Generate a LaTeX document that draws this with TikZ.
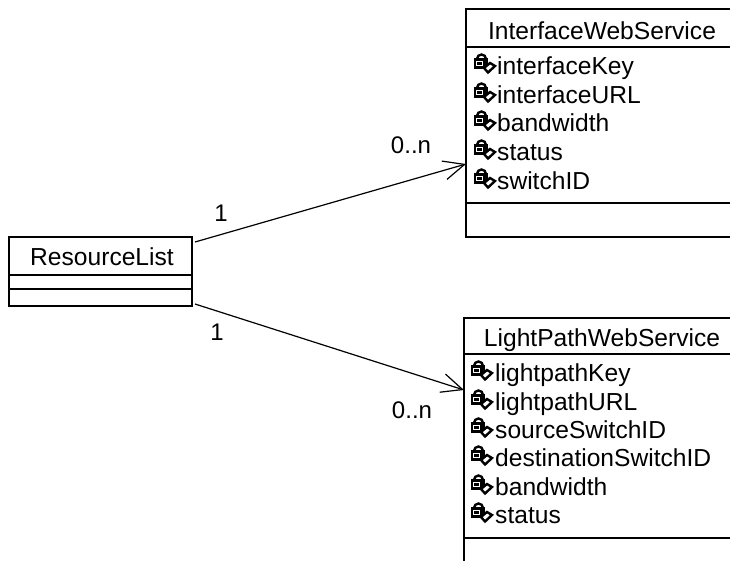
\documentclass[tikz,border=0pt]{standalone}
\usepackage{fontspec}
\setmainfont{Liberation Sans}
\usetikzlibrary{arrows.meta}
\tikzset{
  umlbox/.style={draw=black,line width=1.5pt,fill=white,inner sep=0pt,outer sep=0pt,minimum height=0pt},
  divider/.style={draw=black,line width=1.5pt},
  titletext/.style={font=\fontsize{24.6}{28}\selectfont,inner sep=0pt,anchor=base},
  attrtext/.style={font=\fontsize{24.6}{28}\selectfont,inner sep=0pt,anchor=base west},
  multtext/.style={font=\fontsize{24}{28}\selectfont,inner sep=0pt},
  assoc/.style={draw=black,line width=1.2pt,-{Straight Barb[length=21pt,width=19pt,line width=1.2pt]}},
  attricon/.pic={
    \draw[black,line width=2.4pt] (-4,-1) arc[start angle=180,end angle=360,radius=4.5];
    \fill[black] (-7,-2) rectangle (7,9);
    \draw[white,line width=.8pt] (-5,1) rectangle (1,5);
    \draw[black,fill=white,line width=2.4pt] (3,8) -- (9,3) -- (14,6) -- (7,12.5) -- cycle;
  }
}
\begin{document}
\begin{tikzpicture}[x=1pt,y=-1pt]
\useasboundingbox (0,0) rectangle (730,560);
\clip (0,0) rectangle (730,560);
% ResourceList
\node[umlbox,minimum width=183pt,minimum height=69pt] (res) at (100.5,271.5) {};
\draw[divider] (9,275) -- (192,275);
\draw[divider] (9,289) -- (192,289);
\node[titletext] (resname) at (102,265) {ResourceList};
\coordinate (resup) at (195,242);
\coordinate (reslow) at (195,304);
% InterfaceWebService
\node[umlbox,minimum width=294pt,minimum height=228pt] (ifc) at (613,123) {};
\draw[divider] (466,47) -- (730,47);
\draw[divider] (466,203) -- (730,203);
\node[titletext] (ifcname) at (602,39) {InterfaceWebService};
\foreach \n/\t/\y in {a/interfaceKey/74,b/interfaceURL/103,c/bandwidth/131,d/status/160,e/switchID/189}{
  \pic at (481,\y-14) {attricon};
  \node[attrtext] (ifc\n) at (497,\y) {\t};
}
% LightPathWebService
\node[umlbox,minimum width=296pt,minimum height=300pt] (lp) at (612,468) {};
\draw[divider] (464,354) -- (730,354);
\draw[divider] (464,538) -- (730,538);
\node[titletext] (lpname) at (602,346) {LightPathWebService};
\foreach \n/\t/\y in {a/lightpathKey/381,b/lightpathURL/410,c/sourceSwitchID/438,d/destinationSwitchID/466,e/bandwidth/495,f/status/523}{
  \pic at (478,\y-14) {attricon};
  \node[attrtext] (lp\n) at (495,\y) {\t};
}
% connectors
\coordinate (ifcin) at (466,164);
\coordinate (lpin) at (464,390);
\draw[assoc] (resup) -- (ifcin);
\draw[assoc] (reslow) -- (lpin);
% multiplicities
\node[multtext] (m1) at (221,213) {1};
\node[multtext] (m2) at (411,145) {0..n};
\node[multtext] (m3) at (217,332) {1};
\node[multtext] (m4) at (412,410) {0..n};
\end{tikzpicture}
\end{document}
